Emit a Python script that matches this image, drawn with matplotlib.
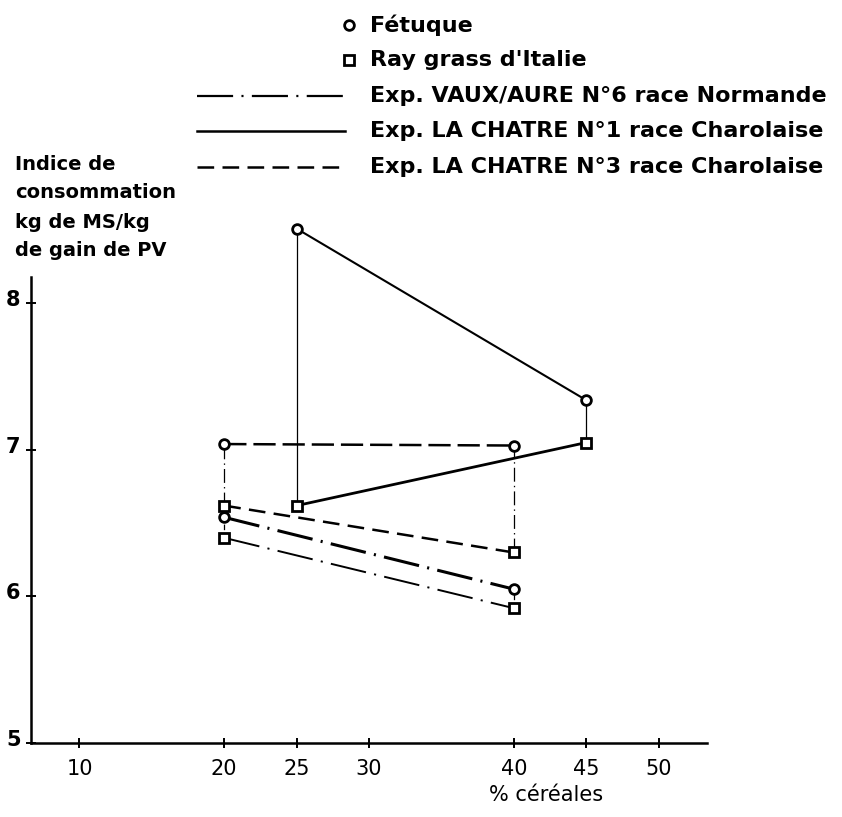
import matplotlib
matplotlib.use('Agg')
import matplotlib.pyplot as plt
from matplotlib.lines import Line2D
from matplotlib.transforms import ScaledTranslation

plt.rcParams['font.family'] = ['DejaVu Sans']
plt.rcParams['lines.scale_dashes'] = False

# % cereales / indice de consommation (kg MS / kg gain PV)
# Exp. VAUX/AURE N°6 race Normande (dash-dot)
vaux_x = [20, 40]
vaux_fetuque = [6.54, 6.05]
vaux_ray = [6.40, 5.92]
# Exp. LA CHATRE N°1 race Charolaise (solid)
ch1_x = [25, 45]
ch1_fetuque = [8.51, 7.34]
ch1_ray = [6.62, 7.05]
# Exp. LA CHATRE N°3 race Charolaise (dashed)
ch3_x = [20, 40]
ch3_fetuque = [7.04, 7.03]
ch3_ray = [6.62, 6.30]

xticks = [10, 20, 25, 30, 40, 45, 50]
yticks = [5, 6, 7, 8]
ylabel_lines = ['Indice de', 'consommation', 'kg de MS/kg', 'de gain de PV']
legend_labels = ['Fétuque', "Ray grass d'Italie",
                 'Exp. VAUX/AURE N°6 race Normande',
                 'Exp. LA CHATRE N°1 race Charolaise',
                 'Exp. LA CHATRE N°3 race Charolaise']

W, H = 842, 817
fig = plt.figure(figsize=(W / 100, H / 100), dpi=100)
ax = fig.add_axes([31 / W, 1 - 743 / H, 676 / W, (743 - 277) / H])

dashdot = (0, (26, 6, 1.5, 6))
dashed_long = (0, (16, 5))
dashed_short = (0, (12, 6))
mk_o = dict(marker='o', ms=7, mfc='white', mec='k', mew=2)
mk_s = dict(marker='s', ms=7, mfc='white', mec='k', mew=2)

# vertical connectors fetuque <-> ray grass
ax.vlines(ch1_x, ch1_ray, ch1_fetuque, colors='k', lw=0.9, zorder=1, clip_on=False)
ax.vlines(ch3_x, ch3_ray, ch3_fetuque, colors='k', lw=0.9,
          linestyles=[(0, (10, 3, 1, 3))], zorder=1)
ax.vlines(vaux_x, vaux_ray, vaux_fetuque, colors='k', lw=0.9,
          linestyles=[(0, (4, 2))], zorder=1)

ax.plot(vaux_x, vaux_fetuque, color='k', lw=2.2, ls=dashdot, zorder=2, **mk_o)
ax.plot(vaux_x, vaux_ray, color='k', lw=1.4, ls=dashdot, zorder=2, **mk_s)
ax.plot(ch1_x, ch1_fetuque, color='k', lw=1.5, ls='-', zorder=2, clip_on=False, **mk_o)
ax.plot(ch1_x, ch1_ray, color='k', lw=2.0, ls='-', zorder=2, **mk_s)
ax.plot(ch3_x, ch3_fetuque, color='k', lw=1.8, ls=dashed_long, zorder=2, **mk_o)
ax.plot(ch3_x, ch3_ray, color='k', lw=1.8, ls=dashed_short, zorder=2, **mk_s)

ax.set_xlim(6.65, 53.35)
ax.set_ylim(5, 8.18)
for s in ['top', 'right']:
    ax.spines[s].set_visible(False)
for s in ['left', 'bottom']:
    ax.spines[s].set_linewidth(1.8)
ax.set_xticks(xticks)
ax.set_yticks(yticks)
ax.tick_params(axis='both', direction='inout', length=7, width=1.4)
ax.tick_params(axis='x', pad=8, labelsize=15)
ax.tick_params(axis='y', pad=4, labelsize=15)
for lab in ax.get_yticklabels():
    lab.set_fontweight('bold')
    lab.set_transform(lab.get_transform() + ScaledTranslation(0, 5 / 100, fig.dpi_scale_trans))

fig.text(546 / W, 1 - 795 / H, '% céréales', ha='center', va='center', fontsize=15)

for i, t in enumerate(ylabel_lines):
    fig.text(15 / W, 1 - (164 + 29 * i) / H, t, ha='left', va='center',
             fontsize=14, fontweight='bold')

# legend drawn by hand
rows = [25, 60, 96, 131, 167]
fig.add_artist(Line2D([349 / W], [1 - rows[0] / H], transform=fig.transFigure, ls='none', **mk_o))
fig.add_artist(Line2D([349 / W], [1 - rows[1] / H], transform=fig.transFigure, ls='none', **mk_s))
for r, ls, lw in zip(rows[2:], [dashdot, '-', dashed_short], [1.6, 1.8, 1.8]):
    fig.add_artist(Line2D([197 / W, 345 / W], [1 - r / H, 1 - r / H],
                          transform=fig.transFigure, color='k', lw=lw, ls=ls))
for r, t in zip(rows, legend_labels):
    fig.text(370 / W, 1 - r / H, t, ha='left', va='center', fontsize=16, fontweight='bold')

fig.savefig('out.png', dpi=100)
